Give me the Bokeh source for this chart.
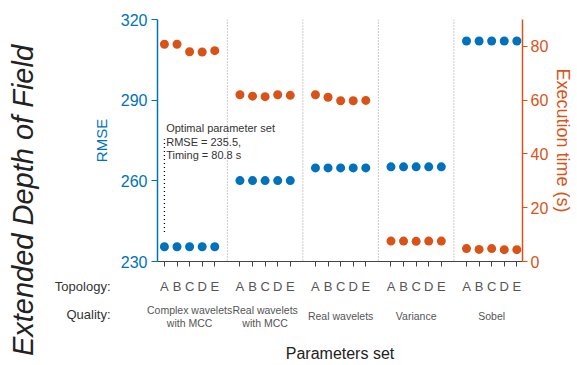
import math
from bokeh.plotting import figure
from bokeh.models import Range1d, LinearAxis, FixedTicker, Label, Span, ColumnDataSource
from bokeh.core.properties import value
from bokeh.embed import file_html
from bokeh.resources import INLINE

# Parameter sets: five quality methods, each run with topologies A-E
quality_names = ["Complex wavelets\nwith MCC", "Real wavelets\nwith MCC",
                 "Real wavelets", "Variance", "Sobel"]
topologies = ["A", "B", "C", "D", "E"]

# RMSE per topology, one list per quality method
rmse_complex_mcc = [235.5, 235.5, 235.5, 235.5, 235.5]
rmse_real_mcc = [260.1, 260.1, 260.1, 260.1, 260.1]
rmse_real = [264.8, 264.8, 264.8, 264.8, 264.8]
rmse_variance = [265.2, 265.2, 265.2, 265.2, 265.2]
rmse_sobel = [312.0, 312.0, 312.0, 312.0, 312.0]

# Execution time (s) per topology
time_complex_mcc = [80.8, 80.8, 78.0, 77.9, 78.4]
time_real_mcc = [62.0, 61.5, 61.3, 62.0, 61.8]
time_real = [62.0, 61.1, 59.8, 59.8, 59.9]
time_variance = [7.6, 7.6, 7.5, 7.6, 7.6]
time_sobel = [4.8, 4.5, 4.8, 4.4, 4.4]

rmse_groups = [rmse_complex_mcc, rmse_real_mcc, rmse_real, rmse_variance, rmse_sobel]
time_groups = [time_complex_mcc, time_real_mcc, time_real, time_variance, time_sobel]

rmse_ticks = [230, 260, 290, 320]
time_ticks = [0, 20, 40, 60, 80]

BLUE = "#0072BD"
ORANGE = "#D95319"
FONT = "Liberation Sans"

# x position: groups of five, separated by one empty slot
step = len(topologies) + 1
xs, rmse_all, time_all = [], [], []
for g, (rv, tv) in enumerate(zip(rmse_groups, time_groups)):
    for i in range(len(topologies)):
        xs.append(g * step + i)
        rmse_all.append(rv[i])
        time_all.append(tv[i])
group_centers = [g * step + (len(topologies) - 1) / 2 for g in range(len(quality_names))]

src = ColumnDataSource(dict(x=xs, rmse=rmse_all, time=time_all))

x_start = -0.55
x_end = xs[-1] + 0.45
y_start, y_end = rmse_ticks[0], rmse_ticks[-1]

p = figure(width=577, height=365, output_backend="svg", toolbar_location=None,
           x_range=Range1d(x_start, x_end), y_range=Range1d(y_start, y_end),
           min_border_left=157, min_border_right=55, min_border_top=19,
           min_border_bottom=104)
p.extra_y_ranges = {"time": Range1d(0, 90)}
p.outline_line_color = None
p.xgrid.visible = False
p.ygrid.visible = False
p.background_fill_color = "white"
p.border_fill_color = "white"

# bottom axis: topology letters under each point
xa = p.xaxis[0]
xa.ticker = FixedTicker(ticks=xs)
xa.major_label_overrides = {x: topologies[k % len(topologies)] for k, x in enumerate(xs)}
xa.major_label_text_font = FONT
xa.major_label_text_font_size = "13px"
xa.major_label_text_color = "#555555"
xa.major_label_standoff = 12
xa.axis_line_color = "#444444"
xa.major_tick_line_color = "#444444"
xa.major_tick_out = 5
xa.major_tick_in = 0
xa.minor_tick_line_color = None
xa.axis_label = "Parameters set"
xa.axis_label_text_font = FONT
xa.axis_label_text_font_style = "normal"
xa.axis_label_text_font_size = "16px"
xa.axis_label_text_color = "#222222"
xa.axis_label_standoff = 48

# left axis: RMSE
ya = p.yaxis[0]
ya.ticker = FixedTicker(ticks=rmse_ticks)
ya.axis_label = "RMSE"
ya.axis_label_text_font = FONT
ya.axis_label_text_font_style = "normal"
ya.axis_label_text_font_size = "15px"
ya.axis_label_text_color = BLUE
ya.axis_label_standoff = 8
ya.major_label_text_font = FONT
ya.major_label_text_font_size = "16px"
ya.major_label_text_color = BLUE
ya.major_label_standoff = 4
ya.axis_line_color = BLUE
ya.axis_line_width = 1.5
ya.major_tick_line_color = BLUE
ya.major_tick_out = 6
ya.major_tick_in = 0
ya.minor_tick_line_color = None

# right axis: execution time
ra = LinearAxis(y_range_name="time", ticker=FixedTicker(ticks=time_ticks))
ra.axis_label = "Execution time (s)"
ra.axis_label_text_font = FONT
ra.axis_label_text_font_style = "normal"
ra.axis_label_text_font_size = "18px"
ra.axis_label_text_color = ORANGE
ra.axis_label_standoff = 2
ra.major_label_text_font = FONT
ra.major_label_text_font_size = "16px"
ra.major_label_text_color = ORANGE
ra.major_label_standoff = 3
ra.axis_line_color = ORANGE
ra.axis_line_width = 1.5
ra.major_tick_line_color = ORANGE
ra.major_tick_out = 5
ra.major_tick_in = 0
ra.minor_tick_line_color = None
p.add_layout(ra, "right")

# dotted separators between quality groups
for g in range(len(quality_names) - 1):
    p.add_layout(Span(location=g * step + len(topologies), dimension="height",
                      line_color="#999999", line_width=1, line_dash="1 2"))

# optimal parameter set marker and note
best = 0
p.segment(x0=xs[best], y0=rmse_all[best] + 5.5, x1=xs[best], y1=rmse_all[best] + 40,
          line_color="black", line_width=1.3, line_dash="1 3")
note = ["Optimal parameter set",
        f"RMSE = {rmse_all[best]},",
        f"Timing = {time_all[best]} s"]
for k, line in enumerate(note):
    p.add_layout(Label(x=xs[best] + 0.14, y=rmse_all[best] + 44 - 5.0 * k, text=line,
                       text_font=FONT, text_font_size="11px", text_color="#333333",
                       text_align="left", text_baseline="middle"))

# points
p.scatter("x", "rmse", source=src, size=9, color=BLUE, line_color=None)
p.scatter("x", "time", source=src, size=9, color=ORANGE, line_color=None,
          y_range_name="time")

# texts outside the frame: anchored on the frame's bottom edge, shifted in pixels,
# drawn on the overlay level so they are not clipped to the frame
q_x, q_text, q_dy = [], [], []
for cx, name in zip(group_centers, quality_names):
    lines = name.split("\n")
    for k, line in enumerate(lines):
        q_x.append(cx)
        q_text.append(line)
        q_dy.append(48 + 13 * k if len(lines) > 1 else 54)
p.text(x=q_x, y=[y_start] * len(q_x), text=q_text, y_offset=q_dy,
       text_font=value(FONT), text_font_size="10.5px", text_color="#555555",
       text_align="center", text_baseline="middle", level="overlay")

p.text(x=[x_start, x_start], y=[y_start, y_start], text=["Topology:", "Quality:"],
       x_offset=-47, y_offset=[25, 53],
       text_font=value(FONT), text_font_size="13px", text_color="#333333",
       text_align="right", text_baseline="middle", level="overlay")

p.text(x=[x_start], y=[y_start], text=["Extended Depth of Field"],
       x_offset=-135, y_offset=-61, angle=math.pi / 2,
       text_font=value(FONT), text_font_size="29px", text_font_style="italic",
       text_color="#222222", text_align="center", text_baseline="middle",
       level="overlay")

open("out.html", "w").write(file_html(p, INLINE))
